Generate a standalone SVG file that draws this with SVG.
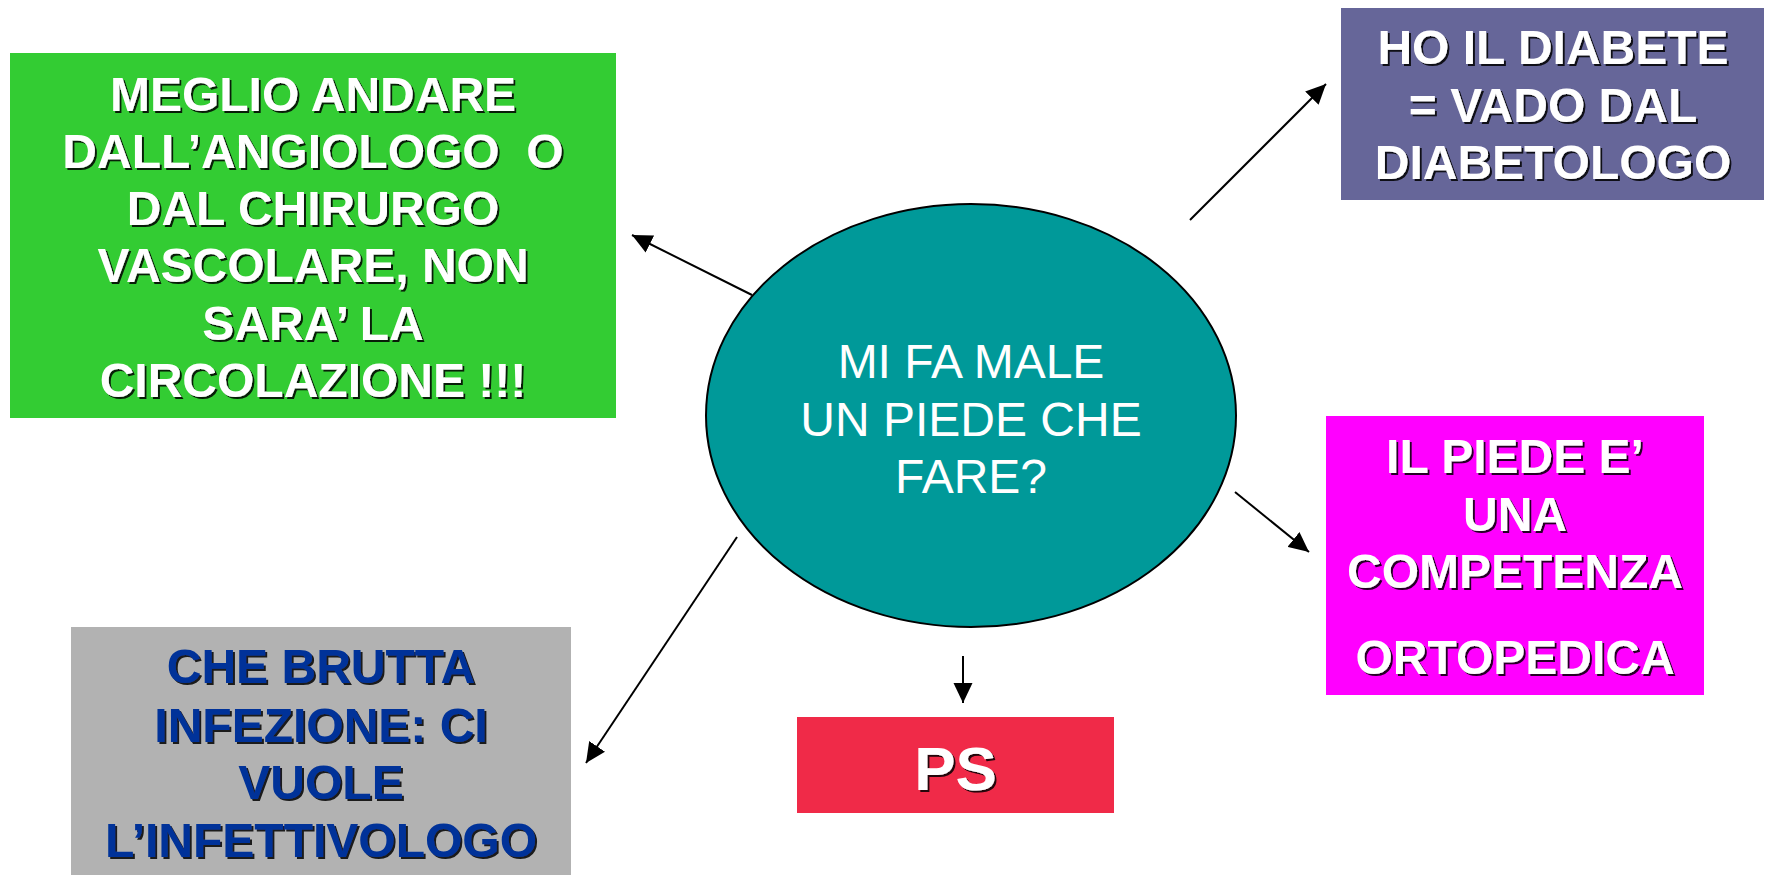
<svg xmlns="http://www.w3.org/2000/svg" width="1765" height="875" viewBox="0 0 1765 875">
  <style>
    .lbl { font-family: "Liberation Sans", Arial, sans-serif; font-weight: bold; font-size: 48px; text-anchor: middle; fill: #ffffff; filter: url(#shadow); }
    .blue { fill: #003399; }
    .center { font-family: "Liberation Sans", Arial, sans-serif; font-size: 48px; text-anchor: middle; fill: #ffffff; }
    .conn { stroke: #000000; stroke-width: 2; fill: none; marker-end: url(#arrow); }
  </style>
  <defs>
    <filter id="shadow" x="-5%" y="-20%" width="110%" height="140%">
      <feDropShadow dx="2" dy="2" stdDeviation="0.4" flood-color="#000000" flood-opacity="0.85"/>
    </filter>
    <marker id="arrow" viewBox="0 0 20 20" refX="20" refY="10" markerWidth="20" markerHeight="20" markerUnits="userSpaceOnUse" orient="auto">
      <path d="M0,0.5 L20,10 L0,19.5 z" fill="#000000"/>
    </marker>
  </defs>
  <rect width="1765" height="875" fill="#ffffff"/>

  <g id="connectors">
    <line class="conn" x1="752" y1="295" x2="632" y2="235"/>
    <line class="conn" x1="1190" y1="220" x2="1326" y2="84"/>
    <line class="conn" x1="1235" y1="492" x2="1309" y2="552"/>
    <line class="conn" x1="737" y1="537" x2="586" y2="763"/>
    <line class="conn" x1="963" y1="656" x2="963" y2="703"/>
  </g>

  <g id="center">
    <ellipse cx="971" cy="415.5" rx="265" ry="211.5" fill="#009999" stroke="#000000" stroke-width="2"/>
    <text class="center" x="971" y="378">MI FA MALE</text>
    <text class="center" x="971" y="436">UN PIEDE CHE</text>
    <text class="center" x="971" y="493">FARE?</text>
  </g>

  <g id="angiologo">
    <rect x="10" y="53" width="606" height="365" fill="#33cc33"/>
    <text class="lbl" x="313" y="111">MEGLIO ANDARE</text>
    <text class="lbl" x="313" y="168">DALL’ANGIOLOGO&#160; O</text>
    <text class="lbl" x="313" y="225">DAL CHIRURGO</text>
    <text class="lbl" x="313" y="282">VASCOLARE, NON</text>
    <text class="lbl" x="313" y="340">SARA’ LA</text>
    <text class="lbl" x="313" y="397">CIRCOLAZIONE !!!</text>
  </g>

  <g id="diabetologo">
    <rect x="1341" y="8" width="423" height="192" fill="#666699"/>
    <text class="lbl" x="1553" y="64">HO IL DIABETE</text>
    <text class="lbl" x="1553" y="122">= VADO DAL</text>
    <text class="lbl" x="1553" y="179">DIABETOLOGO</text>
  </g>

  <g id="ortopedica">
    <rect x="1326" y="416" width="378" height="279" fill="#ff00ff"/>
    <text class="lbl" x="1515" y="473">IL PIEDE E’</text>
    <text class="lbl" x="1515" y="531">UNA</text>
    <text class="lbl" x="1515" y="588">COMPETENZA</text>
    <text class="lbl" x="1515" y="674">ORTOPEDICA</text>
  </g>

  <g id="infettivologo">
    <rect x="71" y="627" width="500" height="248" fill="#b2b2b2"/>
    <text class="lbl blue" x="321" y="683">CHE BRUTTA</text>
    <text class="lbl blue" x="321" y="742">INFEZIONE: CI</text>
    <text class="lbl blue" x="321" y="799">VUOLE</text>
    <text class="lbl blue" x="321" y="857">L’INFETTIVOLOGO</text>
  </g>

  <g id="ps">
    <rect x="797" y="717" width="317" height="96" fill="#f02a48"/>
    <text class="lbl" x="955.5" y="790" style="font-size:62px">PS</text>
  </g>
</svg>
